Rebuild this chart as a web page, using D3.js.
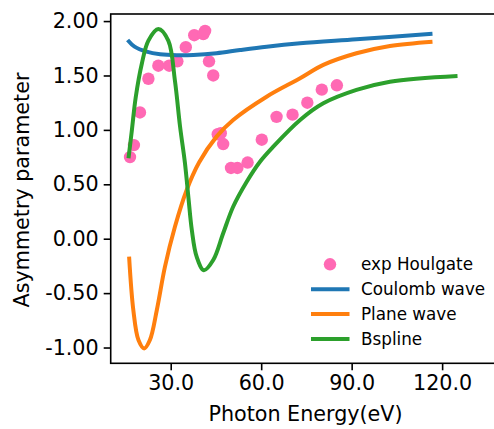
<!DOCTYPE html>
<html>
<head>
<meta charset="utf-8">
<script src="https://cdn.jsdelivr.net/npm/d3@7"></script>
<style>
  html, body { margin: 0; padding: 0; background: #fff; }
  svg { display: block; font-family: "DejaVu Sans", sans-serif; }
</style>
</head>
<body>
<svg id="chart" width="494" height="429"></svg>
<script>
// Experimental asymmetry parameters (Houlgate)
const expEnergy = [16.5, 17.8, 19.8, 22.6, 25.9, 29.5, 32.2, 35.0, 37.8, 40.8, 41.4, 42.7, 44.1,
                   45.6, 46.6, 47.4, 50.0, 52.1, 55.5, 60.2, 65.1, 70.4, 75.3, 80.1, 85.1];
const expBeta   = [0.75, 0.86, 1.16, 1.47, 1.59, 1.59, 1.63, 1.76, 1.87, 1.88, 1.91, 1.63, 1.50,
                   0.96, 0.97, 0.87, 0.65, 0.65, 0.70, 0.91, 1.12, 1.14, 1.25, 1.37, 1.41];

// Coulomb wave calculation
const coulombEnergy = [15.7, 18.0, 22.0, 26.5, 32.0, 37.5, 45.2, 53.0, 61.8, 72.9, 91.6, 116.8];
const coulombBeta   = [1.826, 1.765, 1.719, 1.695, 1.686, 1.688, 1.704, 1.734, 1.765, 1.796, 1.833, 1.884];

// Plane wave calculation
const planeEnergy = [16.2, 17.6, 19.3, 21.2, 23.1, 25.4, 28.1, 31.4, 35.3, 39.4, 45.2, 50.7,
                     61.8, 72.9, 80.6, 91.6, 102.7, 116.8];
const planeBeta   = [-0.165, -0.655, -0.931, -1.008, -0.931, -0.655, -0.257, 0.11, 0.448, 0.70,
                     0.938, 1.091, 1.305, 1.474, 1.597, 1.704, 1.771, 1.811];

// B-spline calculation
const bsplineEnergy = [16.0, 17.1, 18.4, 20.4, 22.6, 25.9, 29.2, 31.4, 33.1, 34.7, 35.9, 37.0,
                       38.6, 41.0, 44.1, 47.4, 50.7, 55.2, 59.6, 64.0, 72.9, 80.6, 91.6, 102.7, 125.1];
const bsplineBeta   = [0.74, 0.993, 1.30, 1.606, 1.82, 1.927, 1.82, 1.452, 1.03, 0.70, 0.37, 0.08,
                       -0.165, -0.29, -0.196, 0.05, 0.294, 0.524, 0.708, 0.846, 1.091, 1.244,
                       1.367, 1.443, 1.495];

const xTicks = [30, 60, 90, 120];
const yTicks = [-1.0, -0.5, 0.0, 0.5, 1.0, 1.5, 2.0];

const svg = d3.select("#chart");
const plot = { left: 110.7, right: 494, top: 14, bottom: 363.3 };

const x = d3.scaleLinear().domain([10.1, 137.2]).range([plot.left, plot.right]);
const y = d3.scaleLinear().domain([-1.145, 2.065]).range([plot.bottom, plot.top]);

const lineGen = d3.line().x(d => x(d[0])).y(d => y(d[1])).curve(d3.curveCatmullRom.alpha(0.5));

const series = [
  { name: "Coulomb wave", color: "#1f77b4", xs: coulombEnergy, ys: coulombBeta },
  { name: "Plane wave",   color: "#ff7f0e", xs: planeEnergy,   ys: planeBeta },
  { name: "Bspline",      color: "#2ca02c", xs: bsplineEnergy, ys: bsplineBeta }
];

svg.append("clipPath").attr("id", "plotclip")
  .append("rect").attr("x", plot.left).attr("y", plot.top)
  .attr("width", plot.right - plot.left).attr("height", plot.bottom - plot.top);

const g = svg.append("g").attr("clip-path", "url(#plotclip)");

// experimental points (drawn first, under the curves)
g.selectAll("circle.exp").data(d3.zip(expEnergy, expBeta)).join("circle")
  .attr("class", "exp")
  .attr("cx", d => x(d[0])).attr("cy", d => y(d[1]))
  .attr("r", 6.2).attr("fill", "#ff69b4");

series.forEach(s => {
  g.append("path").datum(d3.zip(s.xs, s.ys))
    .attr("d", lineGen)
    .attr("fill", "none")
    .attr("stroke", s.color)
    .attr("stroke-width", 4)
    .attr("stroke-linejoin", "round");
});

// axes
const xAxis = d3.axisBottom(x).tickValues(xTicks).tickFormat(d3.format(".1f")).tickSize(7).tickPadding(5);
const yAxis = d3.axisLeft(y).tickValues(yTicks).tickFormat(d3.format(".2f")).tickSize(7).tickPadding(5);

const gx = svg.append("g").attr("transform", `translate(0,${plot.bottom})`).call(xAxis);
const gy = svg.append("g").attr("transform", `translate(${plot.left},0)`).call(yAxis);

[gx, gy].forEach(a => {
  a.select(".domain").remove();
  a.selectAll(".tick line").attr("stroke", "#000").attr("stroke-width", 1.6);
  a.selectAll(".tick text").attr("fill", "#000").attr("font-size", 20.7)
    .attr("font-family", "DejaVu Sans, sans-serif");
});
gy.selectAll(".tick text").text(d => d3.format(".2f")(d).replace("−", "-"));

// frame
svg.append("rect")
  .attr("x", plot.left).attr("y", plot.top)
  .attr("width", plot.right - plot.left + 2).attr("height", plot.bottom - plot.top)
  .attr("fill", "none").attr("stroke", "#000").attr("stroke-width", 1.6);

// axis titles
svg.append("text")
  .attr("x", 305.5).attr("y", 421)
  .attr("text-anchor", "middle").attr("font-size", 20.7)
  .text("Photon Energy(eV)");

svg.append("text")
  .attr("transform", "translate(28.5,190) rotate(-90)")
  .attr("text-anchor", "middle").attr("font-size", 20.7)
  .text("Asymmetry parameter");

// legend
const legend = svg.append("g").attr("transform", "translate(311,264.3)");
const legendItems = [
  { name: "exp Houlgate", color: "#ff69b4", type: "dot" },
  ...series.map(s => ({ name: s.name, color: s.color, type: "line" }))
];
legendItems.forEach((item, i) => {
  const row = legend.append("g").attr("transform", `translate(0,${i * 24.9})`);
  if (item.type === "dot") {
    row.append("circle").attr("cx", 19).attr("cy", 0).attr("r", 6.2).attr("fill", item.color);
  } else {
    row.append("line").attr("x1", 0).attr("x2", 38.5).attr("y1", 0).attr("y2", 0)
      .attr("stroke", item.color).attr("stroke-width", 4);
  }
  row.append("text").attr("x", 50).attr("y", 0).attr("dy", "0.35em")
    .attr("font-size", 16.8).text(item.name);
});
</script>
</body>
</html>
